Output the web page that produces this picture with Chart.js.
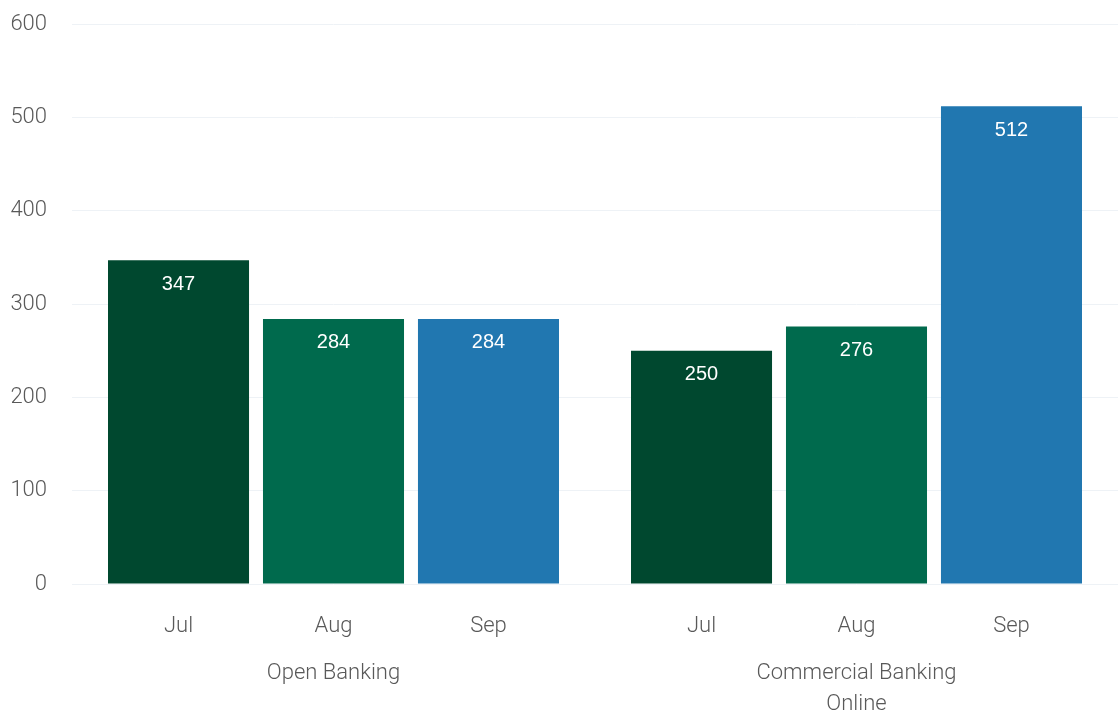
<!DOCTYPE html>
<html>
<head>
<meta charset="utf-8">
<script src="https://cdn.jsdelivr.net/npm/chart.js@4/dist/chart.umd.min.js"></script>
<style>
  html, body { margin: 0; padding: 0; background: #fff; }
  #wrap { width: 1118px; height: 717px; }
</style>
</head>
<body>
<div id="wrap"><canvas id="chart"></canvas></div>
<script>
const groups = ['Open Banking', ['Commercial Banking', 'Online']]
const months = ['Jul', 'Aug', 'Sep']
const julValues = [347, 250]
const augValues = [284, 276]
const sepValues = [284, 512]
const yTicks = [0, 100, 200, 300, 400, 500, 600]

const colors = ['#00482f', '#006a4d', '#2177b0']
const textFont = '"Roboto", "Open Sans", sans-serif'

// value labels inside the top of each bar, month names under each bar
const barText = {
    id: 'barText',
    afterDatasetsDraw(chart) {
        const ctx = chart.ctx
        ctx.save()
        ctx.textAlign = 'center'
        ctx.textBaseline = 'middle'
        chart.data.datasets.forEach((ds, i) => {
            chart.getDatasetMeta(i).data.forEach((bar, j) => {
                ctx.fillStyle = '#fff'
                ctx.font = '20px "Liberation Sans", Arial, sans-serif'
                ctx.fillText(ds.data[j], bar.x, bar.y + 24)
                ctx.fillStyle = '#595959'
                ctx.font = '300 22px ' + textFont
                ctx.fillText(ds.label, bar.x, chart.chartArea.bottom + 42)
            })
        })
        ctx.restore()
    }
}

const data = {
    labels: groups,
    datasets: [julValues, augValues, sepValues].map((values, i) => ({
        label: months[i],
        data: values,
        backgroundColor: colors[i],
        categoryPercentage: 0.889,
        barPercentage: 0.91
    }))
}

const options = {
    responsive: true,
    maintainAspectRatio: false,
    animation: false,
    layout: { padding: 0 },
    plugins: {
        legend: { display: false },
        tooltip: { enabled: false }
    },
    scales: {
        x: {
            grid: { display: false },
            border: { display: false },
            afterFit: axis => { axis.height = 133 },
            ticks: {
                color: '#595959',
                font: { family: textFont, size: 22, weight: 300, lineHeight: 1.4 },
                padding: 66,
                maxRotation: 0
            }
        },
        y: {
            min: 0,
            max: 600,
            afterBuildTicks: axis => { axis.ticks = yTicks.map(v => ({ value: v })) },
            afterFit: axis => {
                axis.width = 72
                axis.paddingTop = 24
                axis.paddingBottom = 0
            },
            grid: { color: '#eef2f6', drawTicks: false },
            border: { display: false },
            ticks: {
                color: '#595959',
                font: { family: textFont, size: 22, weight: 300 },
                padding: 25
            }
        }
    }
}

new Chart('chart', { type: 'bar', data, options, plugins: [barText] })
</script>
</body>
</html>
